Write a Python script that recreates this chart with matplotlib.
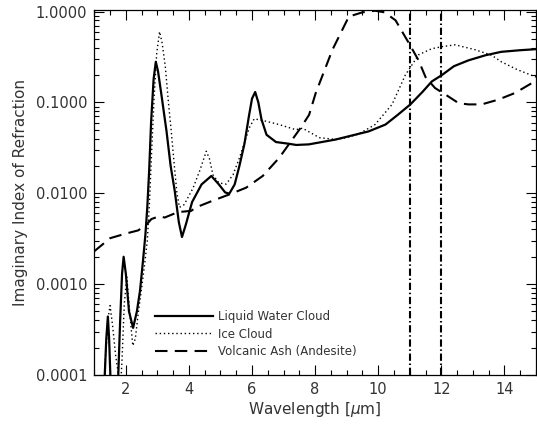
import matplotlib
matplotlib.use("Agg")
import matplotlib.pyplot as plt
from matplotlib.ticker import FixedLocator, MultipleLocator, NullFormatter

# Liquid water cloud
water_x = [1.20, 1.32, 1.38, 1.43, 1.47, 1.53, 1.65, 1.75, 1.82, 1.88, 1.93, 2.00, 2.10, 2.23,
           2.35, 2.45, 2.55, 2.62, 2.68, 2.74, 2.80, 2.88, 2.95, 3.02, 3.13, 3.29, 3.42, 3.55,
           3.68, 3.78, 3.90, 4.10, 4.40, 4.71, 4.95, 5.15, 5.28, 5.45, 5.60, 5.76, 5.90, 6.00,
           6.10, 6.20, 6.30, 6.46, 6.76, 7.18, 7.40, 7.80, 8.65, 9.70, 10.23, 10.60, 11.02,
           11.40, 11.70, 12.02, 12.40, 12.86, 13.40, 13.90, 14.50, 15.00]
water_k = [2e-5, 8e-5, 2.5e-4, 4.4e-4, 2.5e-4, 6e-5, 3e-5, 8e-5, 4e-4, 1.3e-3, 2.0e-3, 1.3e-3, 5e-4, 3.3e-4,
           5e-4, 8.5e-4, 1.9e-3, 3.5e-3, 7e-3, 0.018, 0.06, 0.18, 0.28, 0.22, 0.12, 0.048, 0.02, 0.0106,
           0.0048, 0.0033, 0.0045, 0.008, 0.0125, 0.0155, 0.0125, 0.0102, 0.0099, 0.0125, 0.02, 0.035, 0.07, 0.11,
           0.13, 0.10, 0.065, 0.044, 0.0366, 0.035, 0.034, 0.0345, 0.039, 0.048, 0.057, 0.072, 0.095,
           0.13, 0.17, 0.20, 0.25, 0.29, 0.33, 0.36, 0.375, 0.385]

# Ice cloud
ice_x = [1.25, 1.35, 1.45, 1.50, 1.58, 1.68, 1.75, 1.82, 1.88, 1.95, 2.03, 2.12, 2.22, 2.30, 2.40,
         2.50, 2.60, 2.68, 2.75, 2.82, 2.90, 2.98, 3.07, 3.15, 3.25, 3.35, 3.44, 3.55, 3.62, 3.70,
         3.85, 4.13, 4.35, 4.55, 4.65, 4.76, 4.95, 5.18, 5.40, 5.60, 5.92, 6.07, 6.44, 6.86, 7.39,
         7.60, 8.13, 8.65, 9.00, 9.39, 9.90, 10.44, 10.86, 11.28, 11.70, 12.02, 12.44, 13.07, 13.60,
         13.90, 14.40, 15.00]
ice_k = [3e-5, 1.5e-4, 4.5e-4, 5.8e-4, 3.5e-4, 1.6e-4, 1.1e-4, 6e-5, 1.5e-4, 6e-4, 1.2e-3, 5e-4, 2.1e-4, 2.5e-4, 5e-4,
         9e-4, 1.7e-3, 3e-3, 8e-3, 0.03, 0.12, 0.35, 0.6, 0.45, 0.25, 0.10, 0.048, 0.018, 0.010, 0.007,
         0.0075, 0.0114, 0.018, 0.029, 0.024, 0.016, 0.013, 0.0126, 0.016, 0.0245, 0.053, 0.066, 0.062, 0.057, 0.050,
         0.052, 0.041, 0.039, 0.041, 0.045, 0.057, 0.095, 0.20, 0.334, 0.39, 0.41, 0.43, 0.38, 0.33,
         0.28, 0.23, 0.19]

# Volcanic ash (andesite)
ash_x = [1.0, 1.5, 2.0, 2.39, 2.65, 2.81, 3.07, 3.23, 3.65, 4.07, 4.23, 4.76, 5.28, 5.81, 6.34,
         6.86, 7.18, 7.55, 7.81, 8.02, 8.55, 9.07, 9.50, 9.90, 10.20, 10.55, 10.97, 11.28, 11.50,
         11.80, 12.13, 12.55, 12.86, 13.28, 13.80, 14.34, 14.87, 15.0]
ash_k = [0.0023, 0.0032, 0.0036, 0.0039, 0.0045, 0.0052, 0.0056, 0.0054, 0.0062, 0.0064, 0.007, 0.0083, 0.0097, 0.0115, 0.0155,
         0.0245, 0.035, 0.053, 0.073, 0.127, 0.38, 0.88, 0.98, 1.02, 0.98, 0.80, 0.45, 0.29, 0.19,
         0.144, 0.122, 0.098, 0.095, 0.095, 0.107, 0.127, 0.163, 0.17]

channel_lines = [11.0, 12.0]
labels = ["Liquid Water Cloud", "Ice Cloud", "Volcanic Ash (Andesite)"]
ytick_vals = [1e-4, 1e-3, 1e-2, 1e-1, 1.0]
ytick_labels = ["0.0001", "0.0010", "0.0100", "0.1000", "1.0000"]
xtick_vals = [2, 4, 6, 8, 10, 12, 14]

txtc = "#333333"
fig = plt.figure(figsize=(5.37, 4.24), dpi=100)
ax = fig.add_axes([0.1756, 0.1156, 0.8224, 0.86])

ax.plot(water_x, water_k, color="black", lw=1.6, label=labels[0])
ax.plot(ice_x, ice_k, color="black", lw=1.0, linestyle=(0, (1, 2)), label=labels[1])
ax.plot(ash_x, ash_k, color="black", lw=1.5, linestyle=(0, (6, 3.5)), label=labels[2])
for xv in channel_lines:
    ax.axvline(xv, color="black", lw=1.5, linestyle=(0, (3.5, 1.3, 0.7, 1.3)))

ax.set_yscale("log")
ax.set_xlim(1, 15)
ax.set_ylim(1e-4, 1.03)
ax.yaxis.set_major_locator(FixedLocator(ytick_vals))
ax.set_yticklabels(ytick_labels)
ax.yaxis.set_minor_formatter(NullFormatter())
ax.xaxis.set_major_locator(FixedLocator(xtick_vals))
ax.xaxis.set_minor_locator(MultipleLocator(0.5))

ax.tick_params(which="both", direction="in", top=True, right=True, colors="black",
               labelcolor=txtc, labelsize=10.5, width=0.8)
ax.tick_params(which="major", length=7, pad=5)
ax.tick_params(which="minor", length=3.5)
for s in ax.spines.values():
    s.set_linewidth(0.9)

ax.set_xlabel(r"Wavelength [$\mu$m]", fontsize=11, color=txtc, labelpad=2)
ax.set_ylabel("Imaginary Index of Refraction", fontsize=11, color=txtc, labelpad=6)

leg = ax.legend(loc="upper left", bbox_to_anchor=(0.126, 0.19), frameon=False,
                fontsize=8.5, handlelength=4.9, handletextpad=0.5, labelspacing=0.35,
                borderaxespad=0)
for t in leg.get_texts():
    t.set_color(txtc)

fig.savefig("out.png", dpi=100)
